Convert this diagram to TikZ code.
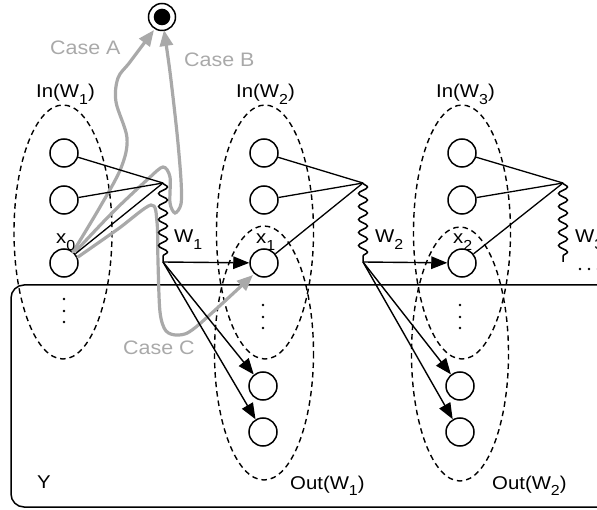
\documentclass[tikz,border=0pt]{standalone}
\usepackage{fontspec}
\setmainfont{Liberation Sans}[FakeStretch=1.1]
\usetikzlibrary{arrows.meta,decorations.pathmorphing}
\newcommand\lowsub[1]{\raisebox{-6.5pt}{\fontsize{14.5}{14.5}\selectfont #1}}
\definecolor{casegray}{HTML}{A9A9A9}
\begin{document}
\begin{tikzpicture}[x=1pt,y=-1pt,
  unit/.style={circle,draw,line width=1.5pt,minimum size=28pt,inner sep=0pt,fill=white},
  group/.style={draw,dash pattern=on 5.5pt off 4pt,line width=1.4pt},
  edge/.style={line width=1.3pt},
  flow/.style={line width=1.4pt,-{Triangle[length=16pt,width=12.5pt]}},
  wave/.style={line width=1.5pt,decorate,decoration={snake,amplitude=4.5pt,segment length=13pt}},
  case/.style={line width=3.2pt,casegray,line cap=round,-{Triangle[length=16pt,width=13pt]}},
  lbl/.style={font=\fontsize{18.5}{22}\selectfont,inner sep=0pt,anchor=base west},
  caselbl/.style={font=\fontsize{19.5}{23}\selectfont,inner sep=0pt,anchor=base west,text=casegray}
]
\useasboundingbox (0,0) rectangle (597,510);
\clip (0,0) rectangle (597,510);

% region Y
\draw[line width=1.5pt,rounded corners=13pt] (11,285) rectangle (640,507);

% input / output groups
\draw[group] (63,232) ellipse [x radius=49, y radius=127];
\draw[group] (265,232) ellipse [x radius=48.5, y radius=127];
\draw[group] (264,353) ellipse [x radius=49.5, y radius=127];
\draw[group] (462,232) ellipse [x radius=48.5, y radius=127];
\draw[group] (460,354) ellipse [x radius=48.5, y radius=127];

% units
\node[unit] (a1) at (64,153) {};
\node[unit] (a2) at (64,200) {};
\node[unit] (x0) at (64,263) {};
\node[unit] (b1) at (264,153) {};
\node[unit] (b2) at (264,200) {};
\node[unit] (x1) at (264,263) {};
\node[unit] (o11) at (263,386) {};
\node[unit] (o12) at (263,432) {};
\node[unit] (c1) at (462,153) {};
\node[unit] (c2) at (462,200) {};
\node[unit] (x2) at (462,263) {};
\node[unit] (o21) at (460,386) {};
\node[unit] (o22) at (460,432) {};

% terminal state
\node[circle,draw,line width=1.5pt,minimum size=27pt,inner sep=0pt] (fin) at (162,17) {};
\fill (fin.center) circle[radius=8.3];

% weight junctions
\coordinate (t1) at (163,183); \coordinate (e1) at (163,262);
\coordinate (t2) at (363,183); \coordinate (e2) at (363,262);
\coordinate (t3) at (563,183); \coordinate (e3) at (563,262);

% vertical dots
\foreach \y in {299,311,322} \fill (64,\y) circle[radius=1.4];
\foreach \y in {305,317,328} \fill (263,\y) circle[radius=1.4];
\foreach \y in {305,317,328} \fill (460,\y) circle[radius=1.4];
\foreach \x in {580,589,598} \fill (\x,269) circle[radius=1.4];

% cases
\draw[case] plot[smooth,tension=0.55] coordinates
  {(73,252) (100,207) (121,168) (127,138) (116,102) (118,78) (130,62) (154,30)};
\draw[case] plot[smooth,tension=0.5] coordinates
  {(76,251) (112,213) (148,179) (163,167) (170,177) (170,203) (175,213) (181,204)
   (181,180) (177,133) (170,72) (164,30)};
\draw[case] plot[smooth,tension=0.5] coordinates
  {(78,257) (118,229) (151,205) (157,222) (158,262) (160,312) (166,331) (179,335)
   (196,327) (253,275)};

% connections into each weight
\foreach \n in {a1,a2,x0} \draw[edge] (\n) -- (t1);
\foreach \n in {b1,b2,x1} \draw[edge] (\n) -- (t2);
\foreach \n in {c1,c2,x2} \draw[edge] (\n) -- (t3);

% weights
\draw[wave] (t1) -- (e1);
\draw[wave] (t2) -- (e2);
\draw[wave] (t3) -- (e3);

% outputs of each weight
\draw[flow] (e1) -- (x1);
\draw[flow] (e1) -- (o11);
\draw[flow] (e1) -- (o12);
\draw[flow] (e2) -- (x2);
\draw[flow] (e2) -- (o21);
\draw[flow] (e2) -- (o22);

% labels
\node[lbl] (lin1) at (36,98) {In(W\lowsub{1})};
\node[lbl] (lin2) at (236,98) {In(W\lowsub{2})};
\node[lbl] (lin3) at (436,98) {In(W\lowsub{3})};
\node[lbl] (lw1) at (174,243) {W\lowsub{1}};
\node[lbl] (lw2) at (375,243) {W\lowsub{2}};
\node[lbl] (lw3) at (575,243) {W\lowsub{3}};
\node[lbl] (lx0) at (56,244) {x\lowsub{0}};
\node[lbl] (lx1) at (256,244) {x\lowsub{1}};
\node[lbl] (lx2) at (453,244) {x\lowsub{2}};
\node[lbl] (lout1) at (290,489) {Out(W\lowsub{1})};
\node[lbl] (lout2) at (492,489) {Out(W\lowsub{2})};
\node[lbl] (ly) at (37,488) {Y};
\node[caselbl] (ca) at (50,55) {Case A};
\node[caselbl] (cb) at (184,67) {Case B};
\node[caselbl] (cc) at (123,355) {Case C};
\end{tikzpicture}
\end{document}
